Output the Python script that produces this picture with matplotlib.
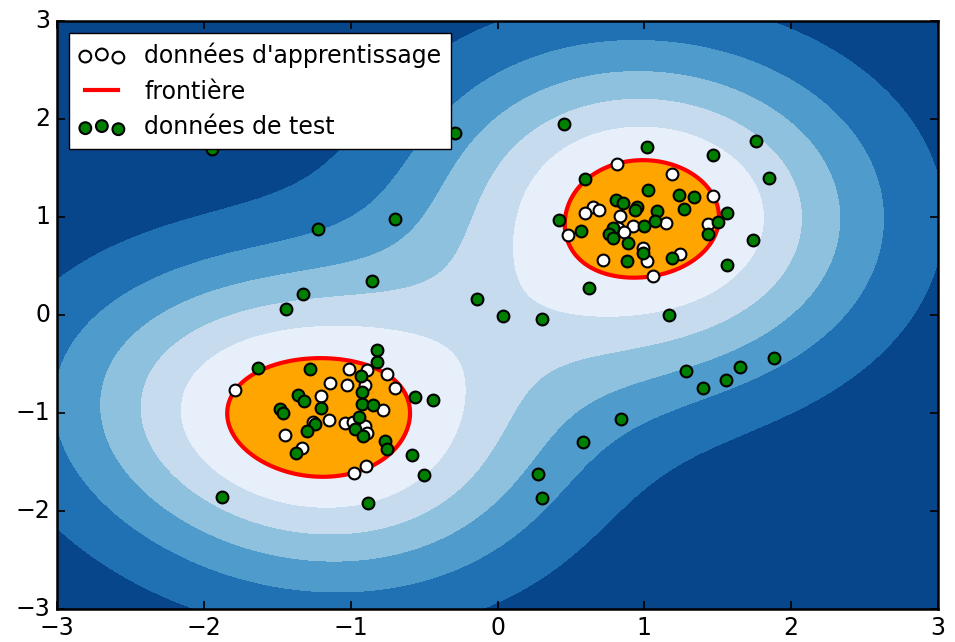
import numpy as np
import matplotlib
matplotlib.use('Agg')
import matplotlib.pyplot as plt
from matplotlib.lines import Line2D

# ---------------- data ----------------
train_x = [-1.787, -1.011, -0.890, -0.754, -1.140, -1.022, -0.902, -0.696, -1.204, -0.781,
           -1.145, -1.038, -0.982, -0.902, -0.890, -1.447, -1.254, -1.333, -0.897, -0.977,
           0.813, 1.191, 1.471, 0.653, 0.694, 0.597, 0.835, 0.926, 1.149, 1.437,
           0.824, 0.862, 0.483, 1.244, 0.994, 0.721, 1.021, 1.062]
train_y = [-0.768, -0.548, -0.564, -0.605, -0.697, -0.714, -0.714, -0.742, -0.827, -0.966,
           -1.071, -1.099, -1.089, -1.133, -1.201, -1.228, -1.089, -1.360, -1.541, -1.609,
           1.544, 1.436, 1.214, 1.102, 1.068, 1.038, 1.010, 0.908, 0.942, 0.926,
           0.885, 0.850, 0.816, 0.619, 0.681, 0.561, 0.551, 0.398]

test_x = [-0.822, -0.822, -1.629, -1.277, -0.931, -1.356, -1.317, -0.924, -0.924, -0.845,
          -0.561, -0.441, -1.481, -1.463, -1.204, -1.243, -1.299, -0.941, -0.970, -0.913,
          -0.766, -0.754, -1.372, -0.582, -0.500, -1.878, -0.879,
          1.017, 1.467, 1.762, 1.852, 0.597, 1.028, 1.239, 1.339, 0.808, 0.858,
          0.949, 0.937, 1.271, 1.085, 1.562, 0.422, 1.074, 0.999, 1.505, 0.569,
          0.790, 0.762, 0.790, 1.437, 0.892, 0.990, 1.743, 1.187, 0.881, 1.562, 0.626,
          -1.944, -0.289, 0.454, -1.222, -0.698, -0.854, -1.324, -1.440, -0.139, 0.038,
          0.304, 1.169, 1.884, 1.653, 1.285, 1.401, 1.557, 0.842, 0.583, 0.277, 0.304]
test_y = [-0.357, -0.477, -0.538, -0.548, -0.622, -0.816, -0.878, -0.783, -0.905, -0.918,
          -0.837, -0.870, -0.962, -0.997, -0.946, -1.109, -1.184, -1.041, -1.166, -1.235,
          -1.286, -1.370, -1.405, -1.432, -1.633, -1.857, -1.915,
          1.717, 1.633, 1.776, 1.395, 1.385, 1.272, 1.224, 1.204, 1.170, 1.140,
          1.102, 1.068, 1.079, 1.061, 1.038, 0.972, 0.959, 0.908, 0.949, 0.857,
          0.885, 0.830, 0.789, 0.824, 0.738, 0.636, 0.765, 0.585, 0.551, 0.510, 0.279,
          1.694, 1.857, 1.949, 0.878, 0.980, 0.347, 0.214, 0.061, 0.163, -0.010,
          -0.041, 0.000, -0.439, -0.531, -0.571, -0.745, -0.663, -1.061, -1.296, -1.622, -1.867]

labels = ["données d'apprentissage", "frontière", "données de test"]
xticks = [-3, -2, -1, 0, 1, 2, 3]
yticks = [-3, -2, -1, 0, 1, 2, 3]

# ------------- one-class SVM (RBF) fitted on the training points -------------
gamma = 0.5
nu = 0.1


def rbf(A, B, g):
    d2 = ((A[:, None, :] - B[None, :, :]) ** 2).sum(-1)
    return np.exp(-g * d2)


X = np.column_stack([train_x, train_y])
n = len(X)
C = 1.0 / (nu * n)
K = rbf(X, X, gamma)
L = np.linalg.eigvalsh(K).max()


def project(v):
    lo, hi = v.min() - C - 1.0, v.max() + 1.0
    for _ in range(60):
        mid = 0.5 * (lo + hi)
        if np.clip(v - mid, 0, C).sum() > 1:
            lo = mid
        else:
            hi = mid
    return np.clip(v - 0.5 * (lo + hi), 0, C)


alpha = np.full(n, 1.0 / n)
yk = alpha.copy()
t = 1.0
for _ in range(1500):
    a_new = project(yk - K @ yk / L)
    t_new = 0.5 * (1 + np.sqrt(1 + 4 * t * t))
    yk = a_new + (t - 1) / t_new * (a_new - alpha)
    alpha, t = a_new, t_new

g = K @ alpha
free = (alpha > 1e-5) & (alpha < C - 1e-5)
if free.any():
    rho = g[free].mean()
else:
    rho = 0.5 * (g[alpha > 1e-5].max() + g[alpha < 1e-5].min())

xx, yy = np.meshgrid(np.linspace(-3, 3, 500), np.linspace(-3, 3, 500))
grid = np.column_stack([xx.ravel(), yy.ravel()])
Z = (rbf(grid, X, gamma) @ alpha - rho).reshape(xx.shape)

# ---------------- plot ----------------
plt.style.use('classic')
plt.rcParams['font.family'] = ['DejaVu Sans']
plt.rcParams['font.size'] = 17
plt.rcParams['legend.fontsize'] = 17
plt.rcParams['xtick.labelsize'] = 17
plt.rcParams['ytick.labelsize'] = 17
plt.rcParams['xtick.major.size'] = 6
plt.rcParams['ytick.major.size'] = 6
plt.rcParams['xtick.major.width'] = 1.2
plt.rcParams['ytick.major.width'] = 1.2
plt.rcParams['xtick.major.pad'] = 5
plt.rcParams['ytick.major.pad'] = 5
plt.rcParams['axes.linewidth'] = 1.8

fig = plt.figure(figsize=(9.55, 6.42), dpi=100, facecolor='white')
ax = fig.add_axes([57 / 955, 33 / 642, 881 / 955, 588 / 642])

ax.contourf(xx, yy, Z, levels=np.linspace(Z.min(), 0, 7), cmap=plt.cm.Blues_r, zorder=1)
ax.contourf(xx, yy, Z, levels=[0, Z.max()], colors='orange', zorder=1.5)
ax.contour(xx, yy, Z, levels=[0], linewidths=3, colors='red', zorder=2)

b1 = ax.scatter(train_x, train_y, c='white', s=72, edgecolors='black', linewidths=1.5, zorder=3)
b2 = ax.scatter(test_x, test_y, c='green', s=72, edgecolors='black', linewidths=1.5, zorder=4)
line_handle = Line2D([], [], color='red', linewidth=3)

ax.set_xlim(-3, 3)
ax.set_ylim(-3, 3)
ax.set_xticks(xticks)
ax.set_yticks(yticks)

ax.legend([b1, line_handle, b2], labels, loc='upper left', scatterpoints=3,
          fontsize=17, frameon=True, fancybox=False)

fig.savefig('out.png', dpi=100, facecolor='white')
